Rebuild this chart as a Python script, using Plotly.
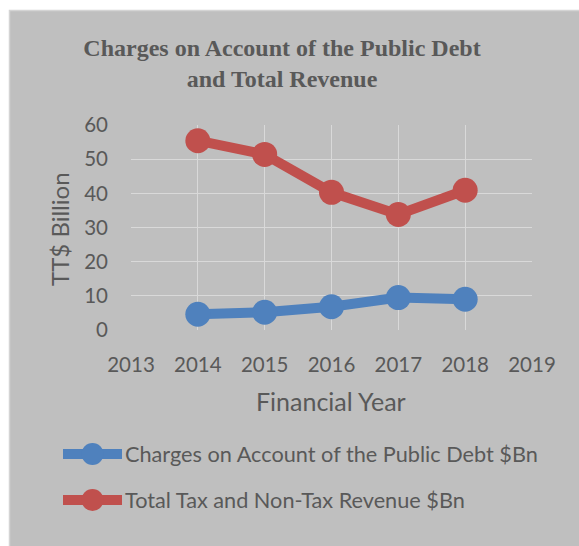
import plotly.graph_objects as go

# Financial years and series values (TT$ billion)
years = [2014, 2015, 2016, 2017, 2018]
debt_charges = [4.6, 5.2, 6.8, 9.5, 9.0]
total_revenue = [55.4, 51.4, 40.3, 33.8, 40.9]

series_names = [
    "Charges on Account of the Public Debt $Bn",
    "Total Tax and Non-Tax Revenue $Bn",
]
series_colors = ["#4F81BD", "#C0504D"]

chart_title = "Charges on Account of the Public Debt<br>and Total Revenue"
x_title = "Financial Year"
y_title = "TT$ Billion"

W, H = 579, 546
ML, MR, MT, MB = 131, 47, 125, 216
PW, PH = W - ML - MR, H - MT - MB

TEXT = "#595959"
GRID = "#D9D9D9"
BG = "#BFBFBF"


def px_x(p):
    return (p - ML) / PW


def px_y(p):
    return (H - MB - p) / PH


fig = go.Figure()
for name, vals, col in zip(series_names, [debt_charges, total_revenue], series_colors):
    fig.add_trace(go.Scatter(
        x=years, y=vals, name=name, mode="lines+markers",
        line=dict(color=col, width=10),
        marker=dict(color=col, size=25),
        showlegend=False,
    ))

shapes = [
    # white strips outside the chart box
    dict(type="rect", xref="paper", yref="paper", x0=px_x(-5), x1=px_x(9),
         y0=px_y(H + 5), y1=px_y(-5), fillcolor="white", line_width=0, layer="below"),
    dict(type="rect", xref="paper", yref="paper", x0=px_x(-5), x1=px_x(W + 5),
         y0=px_y(10), y1=px_y(-5), fillcolor="white", line_width=0, layer="below"),
    dict(type="rect", xref="paper", yref="paper", x0=px_x(9.5), x1=px_x(W + 5),
         y0=px_y(H + 5), y1=px_y(10.5), line=dict(color="#D4D4D4", width=1.5),
         fillcolor="rgba(0,0,0,0)", layer="below"),
]

annotations = [
    dict(text=x_title, xref="paper", yref="paper", x=px_x(331), y=px_y(401),
         showarrow=False, font=dict(family="Lato", size=25, color=TEXT),
         xanchor="center", yanchor="middle"),
    dict(text=y_title, xref="paper", yref="paper", x=px_x(59), y=px_y(229),
         showarrow=False, textangle=-90, font=dict(family="Lato", size=24, color=TEXT),
         xanchor="center", yanchor="middle"),
]

# legend entries: line sample with a circular marker and label
legend_rows = [454, 500]
for name, col, ly in zip(series_names, series_colors, legend_rows):
    shapes.append(dict(type="line", xref="paper", yref="paper",
                       x0=px_x(63), x1=px_x(122), y0=px_y(ly), y1=px_y(ly),
                       line=dict(color=col, width=10)))
    shapes.append(dict(type="circle", xref="paper", yref="paper",
                       xsizemode="pixel", ysizemode="pixel",
                       xanchor=px_x(92.5), yanchor=px_y(ly),
                       x0=-11, x1=11, y0=-11, y1=11,
                       fillcolor=col, line_width=0))
    annotations.append(dict(text=name, xref="paper", yref="paper",
                            x=px_x(123), y=px_y(ly), showarrow=False,
                            xanchor="left", yanchor="middle",
                            font=dict(family="Lato", size=21.7, color=TEXT)))

fig.update_layout(
    width=W, height=H,
    margin=dict(l=ML, r=MR, t=MT, b=MB),
    paper_bgcolor=BG, plot_bgcolor=BG,
    title=dict(text=chart_title, x=282 / W, xanchor="center",
               y=1 - 55.5 / H, yanchor="middle",
               font=dict(family="Liberation Serif", size=24, color=TEXT, weight="bold")),
    xaxis=dict(range=[2013, 2019], dtick=1, tick0=2013, showgrid=True,
               gridcolor=GRID, gridwidth=1.3, zeroline=False, showline=False,
               ticks="", ticklabelstandoff=20,
               tickfont=dict(family="Lato", size=20.5, color=TEXT)),
    yaxis=dict(range=[0, 60], dtick=10, showgrid=True, gridcolor=GRID,
               gridwidth=1.3, zeroline=False, showline=False, ticks="",
               ticklabelstandoff=22,
               tickfont=dict(family="Lato", size=20.5, color=TEXT)),
    shapes=shapes, annotations=annotations, showlegend=False,
)

fig.write_html("out.html")
